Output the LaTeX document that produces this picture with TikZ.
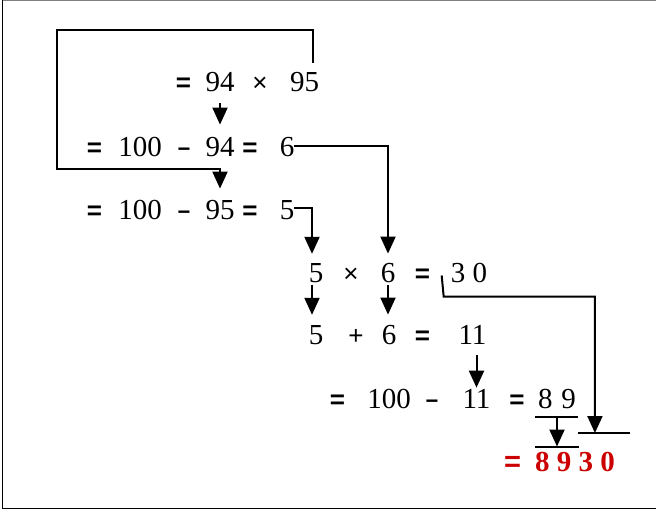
\documentclass[tikz,border=0pt]{standalone}
\usepackage{fontspec}
\setmainfont{Liberation Serif}
\newfontfamily\opfont{Liberation Sans}
\usetikzlibrary{arrows.meta,calc}
\definecolor{ansred}{RGB}{204,0,0}
\tikzset{
  num/.style={anchor=base, inner sep=0pt, font=\fontsize{29}{34}\selectfont},
  op/.style={anchor=base, inner sep=0pt, font=\opfont\bfseries\fontsize{26}{30}\selectfont},
  tm/.style={anchor=base, inner sep=0pt, font=\opfont\fontsize{26}{30}\selectfont},
  mn/.style={anchor=base, inner sep=0pt, font=\opfont\bfseries\fontsize{22}{28}\selectfont},
  res/.style={anchor=base, inner sep=0pt, text=ansred, font=\bfseries\fontsize{29}{34}\selectfont},
  resop/.style={anchor=base, inner sep=0pt, text=ansred, font=\opfont\bfseries\fontsize{29}{32}\selectfont},
  ln/.style={line width=2pt},
  arr/.style={ln, -{Triangle[width=15pt,length=17pt]}},
}
\begin{document}
\begin{tikzpicture}[x=1pt,y=-1pt]
\useasboundingbox (0,0) rectangle (656,511);
% frame
\draw[line width=1pt, black!50] (2,0.5) -- (656,0.5);
\draw[line width=1.5pt] (2.5,0) -- (2.5,508.5) -- (656,508.5);
% row 1
\node[op]  (e1)  at (183.5,92) {=};
\node[num] (a94) at (220,92) {94};
\node[tm]  (x1)  at (260,92) {×};
\node[num] (a95) at (304.5,92) {95};
% row 2
\node[op]  (e2a)  at (94.5,156) {=};
\node[num] (b100) at (140,156) {100};
\node[mn]  (m2)   at (184,156) {−};
\node[num] (b94)  at (220,156) {94};
\node[op]  (e2b)  at (250,156) {=};
\node[num] (b6)   at (287,156) {6};
% row 3
\node[op]  (e3a)  at (94.5,219) {=};
\node[num] (c100) at (140,219) {100};
\node[mn]  (m3)   at (184,219) {−};
\node[num] (c95)  at (220,219) {95};
\node[op]  (e3b)  at (250,219) {=};
\node[num] (c5)   at (287,219) {5};
% row 4
\node[num] (d5)  at (316,282) {5};
\node[tm]  (x4)  at (351,282) {×};
\node[num] (d6)  at (388,282) {6};
\node[op]  (e4)  at (422.5,282) {=};
\node[num] (d30) at (469,282) {3 0};
% row 5
\node[num] (f5)  at (316,344) {5};
\node[tm]  (p5)  at (356,344) {+};
\node[num] (f6)  at (389,344) {6};
\node[op]  (e5)  at (422.5,344) {=};
\node[num] (f11) at (472.5,344) {11};
% row 6
\node[op]  (e6a)  at (337.5,408) {=};
\node[num] (g100) at (389,408) {100};
\node[mn]  (m6)   at (432,408) {−};
\node[num] (g11)  at (476.5,408) {11};
\node[op]  (e6b)  at (517,408) {=};
\node[num] (g89)  at (557,408) {8\hspace{0.3em}9};
% row 7 (result)
\node[resop] (req)   at (512.5,471) {=};
\node[res]   (r8930) at (575,471) {8 9 3 0};
% helper coordinates
\coordinate (tl) at (57,30);
\coordinate (bl) at (57,169);
\coordinate (t30) at ($(r8930.north west)+(60,-18.5)$);
% connectors
\draw[arr] ($(a94.south)+(0,11)$) -- ($(b94.north)+(0,-12)$);
\draw[arr] ($(a95.north)+(8.5,-10)$) |- (tl) -- (bl) -| ($(c95.north)+(0,-11)$);
\draw[arr] ($(b6.east)+(0,-1)$) -| ($(d6.north)+(0,-9)$);
\draw[arr] ($(c5.east)+(0,-2)$) -| ($(d5.north)+(-4,-9)$);
\draw[arr] ($(d5.south)+(-4,3)$) -- ($(f5.north)+(-4,-10)$);
\draw[arr] ($(d6.south)+(0,3)$) -- ($(f6.north)+(-1,-10)$);
\draw[arr] ($(d30.west)+(-9,3)$) -- ($(d30.west)+(-7,24)$) -| (t30);
\draw[arr] ($(f11.south -| g11.north)+(0,11)$) -- ($(g11.north)+(0,-1)$);
\draw[ln] ($(g89.south west)+(-3,9)$) -- ($(g89.south east)+(2,9)$);
\draw[arr] ($(g89.south)+(0,9)$) -- ($(g89.south |- r8930.north)+(0,-5)$);
\draw[ln] ($(r8930.north west)+(0,-4.5)$) -- +(44,0);
\draw[ln] ($(r8930.north west)+(43,-18.5)$) -- +(52,0);
\end{tikzpicture}
\end{document}
